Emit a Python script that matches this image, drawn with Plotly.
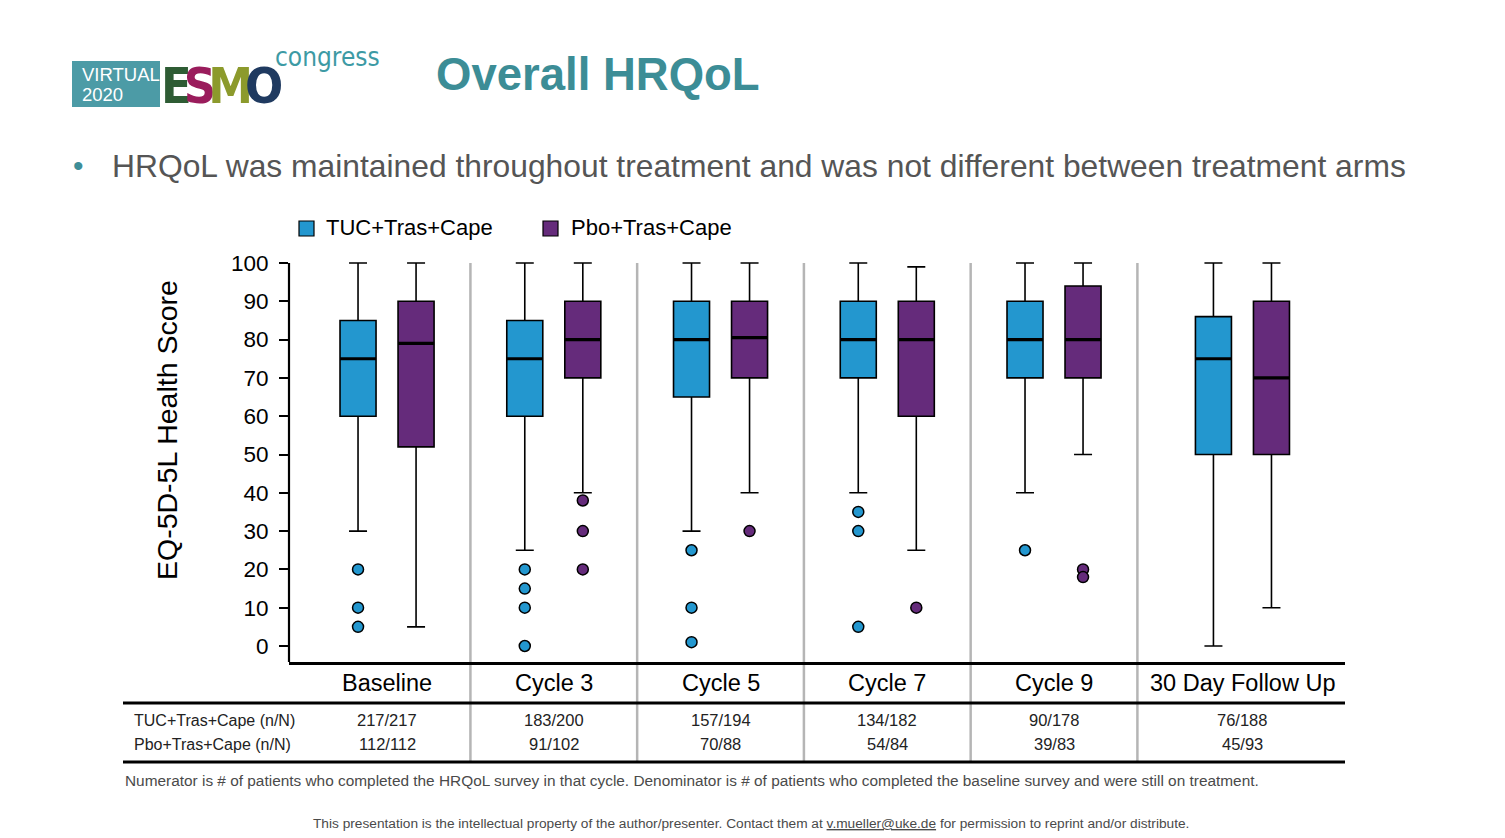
import numpy as np
import plotly.graph_objects as go

# ---------------- data ----------------
categories = ["Baseline", "Cycle 3", "Cycle 5", "Cycle 7", "Cycle 9", "30 Day Follow Up"]

tuc_upper = [100, 100, 100, 100, 100, 100]
tuc_q3 = [85, 85, 90, 90, 90, 86]
tuc_median = [75, 75, 80, 80, 80, 75]
tuc_q1 = [60, 60, 65, 70, 70, 50]
tuc_lower = [30, 25, 30, 40, 40, 0]
tuc_outliers = [[20, 10, 5], [20, 15, 10, 0], [25, 10, 1], [35, 30, 5], [25], []]

pbo_upper = [100, 100, 100, 99, 100, 100]
pbo_q3 = [90, 90, 90, 90, 94, 90]
pbo_median = [79, 80, 80.5, 80, 80, 70]
pbo_q1 = [52, 70, 70, 60, 70, 50]
pbo_lower = [5, 40, 40, 25, 50, 10]
pbo_outliers = [[], [38, 30, 20], [30], [10], [20, 18], []]

tuc_counts = ["217/217", "183/200", "157/194", "134/182", "90/178", "76/188"]
pbo_counts = ["112/112", "91/102", "70/88", "54/84", "39/83", "45/93"]

y_ticks = [0, 10, 20, 30, 40, 50, 60, 70, 80, 90, 100]

# ---------------- layout helpers ----------------
W, H = 1505, 838
PAGE_OFF = 8                               # body margin of the html page
L, R, T, B = 289, 1345, 255, 662          # plot area in page pixels
Y0_PX, Y100_PX = 646, 263
ppu = (Y0_PX - Y100_PX) / 100.0
yr = [-(B - Y0_PX) / ppu, 100 + (Y100_PX - T) / ppu]

def px_x(px):
    return (px - L) / (R - L)

def px_y(py):
    return (B - py) / (B - T)

cat_x = np.arange(len(categories), dtype=float)
cat_x[-1] += 0.13                          # last column is wider
xr = [-0.588, 5.745]
off = 0.174
bw = 0.216

BLUE = "#2397CF"
PURPLE = "#652B7B"
ARIAL = "Liberation Sans, Arial, sans-serif"
COND = "DejaVu Sans Condensed, Liberation Sans, sans-serif"
TEAL = "#3C8D96"

fig = go.Figure()

arms = [
    ("TUC+Tras+Cape", BLUE, -off, tuc_q1, tuc_median, tuc_q3, tuc_lower, tuc_upper, tuc_outliers),
    ("Pbo+Tras+Cape", PURPLE, off, pbo_q1, pbo_median, pbo_q3, pbo_lower, pbo_upper, pbo_outliers),
]

for name, col, dx, q1, med, q3, lo, up, outl in arms:
    xs = cat_x + dx
    fig.add_trace(go.Box(
        x=xs, q1=q1, median=med, q3=q3, lowerfence=lo, upperfence=up,
        width=bw, whiskerwidth=0.5, fillcolor=col,
        line=dict(color="black", width=1.6), boxpoints=False,
        name=name, showlegend=False,
    ))
    mx, my = [], []
    for xi, m in zip(xs, med):
        mx += [xi - bw / 2, xi + bw / 2, None]
        my += [m, m, None]
    fig.add_trace(go.Scatter(x=mx, y=my, mode="lines",
                             line=dict(color="black", width=3.2),
                             showlegend=False, hoverinfo="skip"))
    ox, oy = [], []
    for xi, vals in zip(xs, outl):
        ox += [xi] * len(vals)
        oy += vals
    fig.add_trace(go.Scatter(x=ox, y=oy, mode="markers",
                             marker=dict(size=11, color=col, line=dict(color="black", width=1.5)),
                             showlegend=False, name=name))

shapes = []
shapes.append(dict(type="line", xref="paper", yref="y", x0=0, x1=0, y0=yr[0], y1=100,
                   line=dict(color="black", width=2.2)))
for k in range(len(categories) - 1):
    shapes.append(dict(type="line", xref="x", yref="paper", x0=k + 0.5, x1=k + 0.5,
                       y0=px_y(762), y1=px_y(263), line=dict(color="#B5B5B5", width=2.5),
                       layer="below"))
for py in (703, 762):
    shapes.append(dict(type="line", xref="paper", yref="paper", x0=px_x(123), x1=1,
                       y0=px_y(py), y1=px_y(py), line=dict(color="black", width=3)))
for x0, col in ((299, BLUE), (543, PURPLE)):
    shapes.append(dict(type="rect", xref="paper", yref="paper",
                       x0=px_x(x0), x1=px_x(x0 + 15), y0=px_y(236), y1=px_y(221),
                       fillcolor=col, line=dict(color="black", width=1.2)))

shapes.append(dict(type="rect", xref="paper", yref="paper", x0=px_x(72), x1=px_x(160),
                   y0=px_y(107), y1=px_y(61), fillcolor="#4C9BA6", line=dict(width=0)))

ann = []
for xi, c, t, p in zip(cat_x, categories, tuc_counts, pbo_counts):
    ann.append(dict(x=xi, y=px_y(683), xref="x", yref="paper", text=c, showarrow=False,
                    font=dict(family=ARIAL, size=23.5, color="black"), xanchor="center", yanchor="middle"))
    ann.append(dict(x=xi, y=px_y(720), xref="x", yref="paper", text=t, showarrow=False,
                    font=dict(family=ARIAL, size=16.5, color="#222"), xanchor="center", yanchor="middle"))
    ann.append(dict(x=xi, y=px_y(744), xref="x", yref="paper", text=p, showarrow=False,
                    font=dict(family=ARIAL, size=16.5, color="#222"), xanchor="center", yanchor="middle"))

ann.append(dict(x=px_x(132), y=px_y(720), xref="paper", yref="paper", text="TUC+Tras+Cape (n/N)",
                showarrow=False, font=dict(family=ARIAL, size=16, color="#222"), xanchor="left", yanchor="middle"))
ann.append(dict(x=px_x(132), y=px_y(744), xref="paper", yref="paper", text="Pbo+Tras+Cape (n/N)",
                showarrow=False, font=dict(family=ARIAL, size=16, color="#222"), xanchor="left", yanchor="middle"))

ann.append(dict(x=px_x(324), y=px_y(227), xref="paper", yref="paper", text="TUC+Tras+Cape",
                showarrow=False, font=dict(family=ARIAL, size=22, color="black"), xanchor="left", yanchor="middle"))
ann.append(dict(x=px_x(569), y=px_y(227), xref="paper", yref="paper", text="Pbo+Tras+Cape",
                showarrow=False, font=dict(family=ARIAL, size=22, color="black"), xanchor="left", yanchor="middle"))

ann.append(dict(x=px_x(167), y=px_y(430), xref="paper", yref="paper", text="EQ-5D-5L Health Score",
                showarrow=False, textangle=-90, font=dict(family=ARIAL, size=28.5, color="black"),
                xanchor="center", yanchor="middle"))

ann.append(dict(x=px_x(598), y=px_y(75), xref="paper", yref="paper", text="<b>Overall HRQoL</b>",
                showarrow=False, font=dict(family=ARIAL, size=45.5, color=TEAL),
                xanchor="center", yanchor="middle"))
ann.append(dict(x=px_x(78), y=px_y(166), xref="paper", yref="paper", text="•",
                showarrow=False, font=dict(family=ARIAL, size=30, color="#3E8E98"),
                xanchor="center", yanchor="middle"))
ann.append(dict(x=px_x(110), y=px_y(166), xref="paper", yref="paper",
                text="HRQoL was maintained throughout treatment and was not different between treatment arms",
                showarrow=False, font=dict(family=ARIAL, size=31.8, color="#555555"),
                xanchor="left", yanchor="middle"))

ann.append(dict(x=px_x(123), y=px_y(780), xref="paper", yref="paper",
                text="Numerator is # of patients who completed the HRQoL survey in that cycle. Denominator is # of patients who completed the baseline survey and were still on treatment.",
                showarrow=False, font=dict(family=ARIAL, size=15.4, color="#4A4A4A"),
                xanchor="left", yanchor="middle"))
ann.append(dict(x=px_x(751), y=px_y(823), xref="paper", yref="paper",
                text="This presentation is the intellectual property of the author/presenter. Contact them at <u>v.mueller@uke.de</u> for permission to reprint and/or distribute.",
                showarrow=False, font=dict(family=ARIAL, size=13.7, color="#4A4A4A"),
                xanchor="center", yanchor="middle"))

# logo texts
ann.append(dict(x=px_x(80), y=px_y(75), xref="paper", yref="paper", text="VIRTUAL",
                showarrow=False, font=dict(family=ARIAL, size=18.5, color="white"), xanchor="left", yanchor="middle"))
ann.append(dict(x=px_x(80), y=px_y(94), xref="paper", yref="paper", text="2020",
                showarrow=False, font=dict(family=ARIAL, size=18.5, color="white"), xanchor="left", yanchor="middle"))
ann.append(dict(x=px_x(159), y=px_y(86), xref="paper", yref="paper",
                text="<b><span style='color:#2E5C34;letter-spacing:-8px'>E</span>"
                     "<span style='color:#9A1C5C;letter-spacing:-8px'>S</span>"
                     "<span style='color:#8C9A2C;letter-spacing:-8px'>M</span>"
                     "<span style='color:#1F3A60'>O</span></b>",
                showarrow=False, font=dict(family=COND, size=50, color="#2E5C34"),
                xanchor="left", yanchor="middle"))
ann.append(dict(x=px_x(327), y=px_y(57), xref="paper", yref="paper", text="congress",
                showarrow=False, font=dict(family=COND, size=26, color="#3D9AA4"),
                xanchor="center", yanchor="middle"))

fig.update_layout(
    width=W, height=H,
    margin=dict(l=L - PAGE_OFF, r=W - R + PAGE_OFF, t=T - PAGE_OFF, b=H - B + PAGE_OFF, pad=0),
    paper_bgcolor="white", plot_bgcolor="white",
    showlegend=False,
    shapes=shapes, annotations=ann,
    xaxis=dict(range=xr, showgrid=False, zeroline=False, showticklabels=False, ticks="",
               showline=True, linecolor="black", linewidth=3, fixedrange=True),
    yaxis=dict(range=yr, tickvals=y_ticks, showgrid=False, zeroline=False, showline=False,
               ticks="outside", ticklen=9, tickwidth=2, tickcolor="black", ticklabelstandoff=6,
               tickfont=dict(family=ARIAL, size=22.5, color="black"), fixedrange=True),
)

fig.write_html("out.html")
